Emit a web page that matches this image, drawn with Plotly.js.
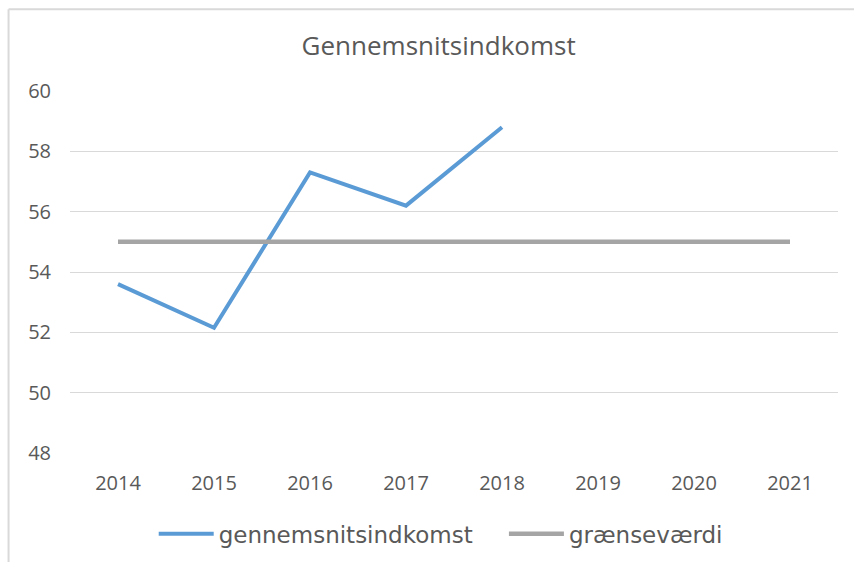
<!DOCTYPE html>
<html>
<head>
<meta charset="utf-8">
<script src="https://cdn.plot.ly/plotly-3.0.1.min.js"></script>
<style>html,body{margin:0;padding:0;background:#fff;}#chart{width:854px;height:562px;}</style>
</head>
<body>
<div id="chart"></div>
<script>
const years = ["2014","2015","2016","2017","2018","2019","2020","2021"];
const incomeYears = ["2014","2015","2016","2017","2018"];
const income = [53.6, 52.15, 57.3, 56.2, 58.8];
const limit = [55, 55, 55, 55, 55, 55, 55, 55];
const yTicks = [48, 50, 52, 54, 56, 58, 60];

const traces = [
  {x: incomeYears, y: income, type: 'scatter', mode: 'lines', name: 'gennemsnitsindkomst',
   legend: 'legend', line: {color: '#5b9bd5', width: 4}},
  {x: years, y: limit, type: 'scatter', mode: 'lines', name: 'grænseværdi',
   legend: 'legend2', line: {color: '#a5a5a5', width: 4.5}}
];

const legendFont = {size: 23, color: '#595959', family: 'DejaVu Sans, sans-serif'};

const layout = {
  width: 854, height: 562,
  margin: {l: 70, r: 16, t: 91, b: 109},
  paper_bgcolor: '#fff', plot_bgcolor: '#fff',
  font: {family: 'Open Sans, sans-serif', color: '#595959'},
  title: {text: 'Gennemsnitsindkomst', x: 0.48, xref: 'paper', y: 46, yref: 'container',
          yanchor: 'middle', font: {size: 26, color: '#595959', family: 'Open Sans, sans-serif'}},
  xaxis: {type: 'category', categoryorder: 'array', categoryarray: years, range: [-0.5, 7.5],
          showgrid: false, zeroline: false, showline: false, ticks: '', automargin: false,
          tickfont: {size: 20, color: '#595959'}, ticklabelstandoff: 16},
  yaxis: {range: [48, 60], tickvals: yTicks, showgrid: true, gridcolor: '#d9d9d9', gridwidth: 1,
          zeroline: false, showline: false, ticks: '', automargin: false,
          tickfont: {size: 20, color: '#595959'}, ticklabelstandoff: 18},
  showlegend: true,
  legend: {orientation: 'h', xref: 'paper', x: 0.109, xanchor: 'left',
           yref: 'container', y: 0.05, yanchor: 'middle', itemwidth: 55, font: legendFont},
  legend2: {orientation: 'h', xref: 'paper', x: 0.565, xanchor: 'left',
           yref: 'container', y: 0.05, yanchor: 'middle', itemwidth: 55, font: legendFont},
  shapes: [
    {type: 'line', xref: 'paper', yref: 'paper', x0: -0.08, x1: 1.1, y0: 1.2255, y1: 1.2255,
     line: {color: '#d9d9d9', width: 2}},
    {type: 'line', xref: 'paper', yref: 'paper', x0: -0.08, x1: -0.08, y0: 1.2255, y1: -0.35,
     line: {color: '#d9d9d9', width: 2}}
  ]
};

Plotly.newPlot('chart', traces, layout, {displayModeBar: false, staticPlot: true});
</script>
</body>
</html>
